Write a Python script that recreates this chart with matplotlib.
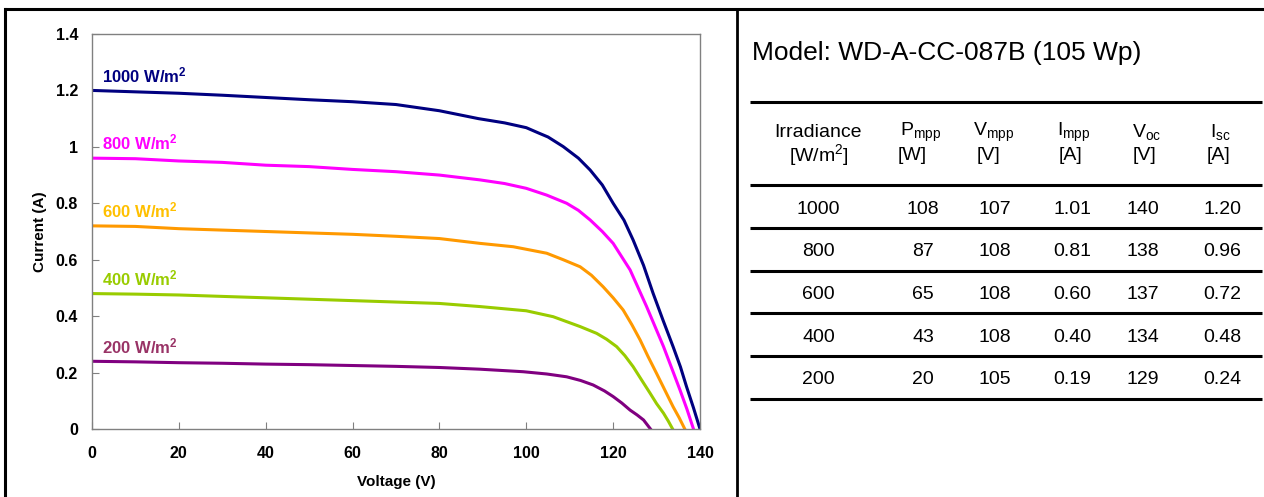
"""I-V curves of a PV module at several irradiance levels, with a summary table."""

import matplotlib
matplotlib.use("Agg")
import matplotlib.pyplot as plt

plt.rcParams["font.family"] = ["Liberation Sans", "DejaVu Sans"]
plt.rcParams["mathtext.default"] = "regular"

W, H = 1264, 497

# I-V curves
V_1000 = [0, 10, 20, 30, 40, 50, 60, 70, 80, 89, 95, 100, 103, 105, 108.5, 112, 114.7, 117.5, 120,
          122.5, 124.6, 127, 129.2, 131.5, 133.8, 135.5, 136.9, 138.5, 140]
I_1000 = [1.20, 1.195, 1.19, 1.183, 1.175, 1.167, 1.16, 1.15, 1.128, 1.10, 1.085, 1.068, 1.048, 1.035,
          1.001, 0.96, 0.918, 0.865, 0.80, 0.74, 0.67, 0.58, 0.481, 0.385, 0.292, 0.22, 0.15, 0.075, 0.0]

V_800 = [0, 10, 20, 30, 40, 50, 60, 70, 80, 89.3, 95, 100, 104.7, 109.3, 112, 114.7, 117.5, 120,
         123.9, 127.7, 131.6, 135.4, 137, 138.5]
I_800 = [0.96, 0.958, 0.95, 0.945, 0.935, 0.93, 0.92, 0.912, 0.90, 0.883, 0.87, 0.853, 0.829, 0.80,
         0.775, 0.741, 0.70, 0.658, 0.564, 0.434, 0.292, 0.138, 0.07, 0.0]

V_600 = [0, 10, 20, 30, 40, 50, 60, 70, 80, 89.3, 97, 104.7, 108.5, 112.4, 115, 117.7, 120, 122.3,
         124.3, 126.2, 128, 130, 131.9, 133.8, 135.2, 136.5]
I_600 = [0.72, 0.718, 0.71, 0.705, 0.70, 0.695, 0.69, 0.683, 0.675, 0.658, 0.646, 0.623, 0.60, 0.575,
         0.545, 0.504, 0.465, 0.422, 0.37, 0.316, 0.258, 0.197, 0.138, 0.079, 0.04, 0.0]

V_400 = [0, 10, 20, 30, 40, 50, 60, 70, 80, 89.3, 100, 106.2, 112.4, 116.2, 118.5, 120.8, 122.7,
         124.6, 126.5, 128.5, 130, 131.6, 132.7, 133.7]
I_400 = [0.48, 0.478, 0.475, 0.47, 0.465, 0.46, 0.455, 0.45, 0.445, 0.434, 0.419, 0.398, 0.363, 0.339,
         0.318, 0.292, 0.26, 0.221, 0.175, 0.127, 0.09, 0.056, 0.028, 0.0]

V_200 = [0, 10, 20, 30, 40, 50, 60, 70, 80, 89.3, 99.3, 104.7, 109.3, 112.5, 115.4, 118, 120, 122,
         123.9, 125.5, 127, 128.6]
I_200 = [0.24, 0.238, 0.235, 0.233, 0.23, 0.228, 0.225, 0.222, 0.218, 0.212, 0.203, 0.195, 0.185,
         0.172, 0.156, 0.135, 0.115, 0.092, 0.067, 0.05, 0.032, 0.0]

CURVES = [
    ("1000", V_1000, I_1000, "#000080", "#000080"),
    ("800", V_800, I_800, "#FF00FF", "#FF00FF"),
    ("600", V_600, I_600, "#FF9900", "#FFC000"),
    ("400", V_400, I_400, "#99CC00", "#99CC00"),
    ("200", V_200, I_200, "#800080", "#993366"),
]

# summary table
MODEL = "Model: WD-A-CC-087B (105 Wp)"
HEAD_TOP = ["Irradiance", "P$_{mpp}$", "V$_{mpp}$", "I$_{mpp}$", "V$_{oc}$", "I$_{sc}$"]
HEAD_BOT = ["[W/m$^{2}$]", "[W]", "[V]", "[A]", "[V]", "[A]"]
IRRADIANCE = ["1000", "800", "600", "400", "200"]
P_MPP = ["108", "87", "65", "43", "20"]
V_MPP = ["107", "108", "108", "108", "105"]
I_MPP = ["1.01", "0.81", "0.60", "0.40", "0.19"]
V_OC = ["140", "138", "137", "134", "129"]
I_SC = ["1.20", "0.96", "0.72", "0.48", "0.24"]

fig = plt.figure(figsize=(W / 100, H / 100), dpi=100)

# frame + table layer in pixel coordinates
bg = fig.add_axes([0, 0, 1, 1], zorder=0)
bg.set_xlim(0, W)
bg.set_ylim(H, 0)
bg.axis("off")
bg.plot([4, W], [9, 9], color="black", lw=2.2, solid_capstyle="butt")
bg.plot([5.3, 5.3], [9, H], color="black", lw=2.2)
bg.plot([737.3, 737.3], [9, H], color="black", lw=2.0)

ax = fig.add_axes([92 / W, 1 - 429 / H, (700 - 92) / W, (429 - 34) / H], zorder=1)
for name, v, i, line_color, label_color in CURVES:
    ax.plot(v, i, color=line_color, lw=2.2, solid_joinstyle="round")
    ax.annotate(f"{name} W/m$^{{2}}$", xy=(0, i[0]), xytext=(7, 6), textcoords="offset points",
                ha="left", va="baseline", color=label_color, fontsize=12, fontweight="bold")

ax.set_xlim(0, 140)
ax.set_ylim(0, 1.4)
ax.set_xticks(range(0, 141, 20))
ax.set_yticks([0, 0.2, 0.4, 0.6, 0.8, 1.0, 1.2, 1.4])
ax.set_yticklabels(["0", "0.2", "0.4", "0.6", "0.8", "1", "1.2", "1.4"])
ax.tick_params(direction="in", length=5, color="#808080", labelsize=11.5)
ax.tick_params(axis="x", pad=12)
ax.tick_params(axis="y", pad=10)
for lab in ax.get_xticklabels() + ax.get_yticklabels():
    lab.set_fontweight("bold")
for sp in ax.spines.values():
    sp.set_color("#808080")
    sp.set_linewidth(1.0)
ax.set_xlabel("Voltage (V)", fontsize=11, fontweight="bold", labelpad=10)
ax.set_ylabel("Current (A)", fontsize=11, fontweight="bold", labelpad=6)

# table on the right
bg.text(752, 60, MODEL, fontsize=19, ha="left", va="baseline")
col_x = [818.5, 923, 995, 1072.5, 1143, 1222.5]
head_top_x = [818.5, 921, 994, 1074, 1147, 1220]
head_bot_x = [819, 912.5, 988, 1070, 1144, 1218]
for x, t in zip(head_top_x, HEAD_TOP):
    bg.text(x, 132.5, t, fontsize=14, ha="center", va="center")
for x, t in zip(head_bot_x, HEAD_BOT):
    bg.text(x, 155.5, t, fontsize=14, ha="center", va="center")

rows = list(zip(IRRADIANCE, P_MPP, V_MPP, I_MPP, V_OC, I_SC))
row_y = [209.5, 252, 294.5, 337, 379.5]
for y, row in zip(row_y, rows):
    for x, t in zip(col_x, row):
        bg.text(x, y, t, fontsize=14, ha="center", va="center")

for y in [102, 185, 228, 270.5, 313, 356, 398.5]:
    bg.plot([750, 1262], [y, y], color="black", lw=2.2, solid_capstyle="butt")

fig.savefig("out.png", dpi=100)
